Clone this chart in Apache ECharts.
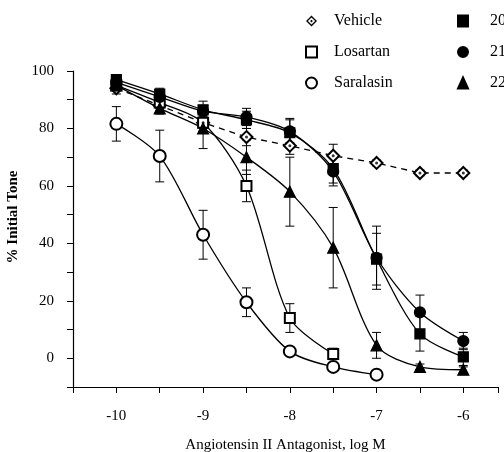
<!DOCTYPE html>
<html>
<head>
<meta charset="utf-8" />
<title>Angiotensin II Antagonist</title>
<script src="https://cdn.jsdelivr.net/npm/echarts@6/dist/echarts.min.js"></script>
<style>
  body { margin: 0; background: #fff; }
  #chart { width: 504px; height: 452px; }
</style>
</head>
<body>
<div id="chart"></div>
<script type="text/javascript">
// log M doses
var doses = [-10, -9.5, -9, -8.5, -8, -7.5, -7, -6.5, -6];

// % initial tone
var vehicle = [94, 88, 82, 77, 74, 70.5, 68, 64.5, 64.5];
var vehicleErr = [2, 2, 3, 3, 3, 4, 1, 1, 1];
var losartan = [95, 89, 82, 60, 14, 1.5];
var losartanErr = [1, 2, 2, 5.5, 5, 2];
var saralasin = [81.6, 70.4, 43, 19.5, 2.4, -3, -5.7];
var saralasinErr = [6, 9, 8.5, 5, 1, 1, 1];
var c20 = [97, 92, 86.5, 83, 78.5, 66, 34.5, 8.5, 0.5];
var c20Err = [1, 2, 3, 3, 5, 5, 9, 6, 3];
var c21 = [96, 91, 86, 84, 79, 65, 35, 16, 6];
var c21Err = [1, 2, 2, 3, 4, 5, 11, 6, 3];
var c22 = [95, 87, 80, 70, 58, 38.5, 4.5, -3, -4];
var c22Err = [1, 2, 7, 6, 12, 14, 4.5, 1, 1];

var xTickLabels = ['-10', '-9', '-8', '-7', '-6'];
var yTickLabels = ['0', '20', '40', '60', '80', '100'];

var font = 'Liberation Serif';
// diamond ring with a centre dot, for the Vehicle legend key
var dotDiamond = 'path://M0,-10L10,0L0,10L-10,0ZM0,-6.5L-6.5,0L0,6.5L6.5,0ZM0,-2.5L2.5,0L0,2.5L-2.5,0Z';

function pairs(ys) {
  return ys.map(function (y, i) { return [doses[i], y]; });
}
function errData(ys, errs) {
  return ys.map(function (y, i) { return [doses[i], y, errs[i]]; });
}

function errorBars(name, ys, errs) {
  return {
    name: name + ' err',
    type: 'custom',
    z: 1,
    silent: true,
    data: errData(ys, errs),
    renderItem: function (params, api) {
      var x = api.value(0), y = api.value(1), e = api.value(2);
      var top = api.coord([x, y + e]);
      var bot = api.coord([x, y - e]);
      var w = 4.5;
      var st = { stroke: '#000', lineWidth: 1 };
      return {
        type: 'group',
        children: [
          { type: 'line', shape: { x1: top[0], y1: top[1], x2: bot[0], y2: bot[1] }, style: st },
          { type: 'line', shape: { x1: top[0] - w, y1: top[1], x2: top[0] + w, y2: top[1] }, style: st },
          { type: 'line', shape: { x1: bot[0] - w, y1: bot[1], x2: bot[0] + w, y2: bot[1] }, style: st }
        ]
      };
    }
  };
}

function curve(name, ys, symbol, size, dashed) {
  return {
    name: name,
    type: 'line',
    z: 3,
    data: pairs(ys),
    symbol: symbol,
    symbolSize: size,
    showAllSymbol: true,
    smooth: dashed ? false : 0.3,
    lineStyle: { color: '#000', width: 1.3, type: dashed ? [6, 5] : 'solid' },
    itemStyle: { color: '#000', borderColor: '#000', borderWidth: 1.2 },
    emphasis: { disabled: true }
  };
}

var chart = echarts.init(document.getElementById('chart'));

var option = {
  animation: false,
  backgroundColor: '#fff',
  color: ['#000'],
  textStyle: { fontFamily: font, color: '#000' },
  grid: { left: 73, right: 6, top: 71, bottom: 65, outerBoundsMode: 'none', containLabel: false },
  legend: [
    {
      left: 300, top: 8, orient: 'vertical', itemGap: 15,
      itemWidth: 11, itemHeight: 11,
      data: [
        { name: 'Vehicle', icon: dotDiamond, itemStyle: { color: '#000', borderWidth: 0 } },
        { name: 'Losartan', icon: 'emptyRect' },
        { name: 'Saralasin', icon: 'emptyCircle' }
      ],
      textStyle: { fontFamily: font, fontSize: 16, color: '#000', padding: [0, 0, 0, 12] }
    },
    {
      left: 452, top: 8, orient: 'vertical', itemGap: 15,
      itemWidth: 10, itemHeight: 11,
      data: [
        { name: '20', icon: 'rect' },
        { name: '21', icon: 'circle' },
        { name: '22', icon: 'triangle' }
      ],
      textStyle: { fontFamily: font, fontSize: 16, color: '#000', padding: [0, 0, 0, 17] }
    }
  ],
  xAxis: {
    type: 'value',
    min: -10.5, max: -5.6, interval: 0.5,
    name: 'Angiotensin II Antagonist, log M',
    nameLocation: 'middle', nameGap: 51,
    nameTextStyle: { fontFamily: font, fontSize: 15, color: '#000' },
    axisLine: { onZero: false, lineStyle: { color: '#000', width: 1.2 } },
    axisTick: { length: 6, lineStyle: { color: '#000' } },
    axisLabel: {
      margin: 22, fontFamily: font, fontSize: 15, color: '#000',
      formatter: function (v) {
        var s = String(v);
        return xTickLabels.indexOf(s) >= 0 ? s : '';
      }
    },
    splitLine: { show: false }
  },
  yAxis: {
    type: 'value',
    min: -10, max: 100, interval: 10,
    name: '% Initial Tone',
    nameLocation: 'middle', nameGap: 45,
    nameTextStyle: { fontFamily: font, fontSize: 15, fontWeight: 'bold', color: '#000', padding: [0, 0, 0, 24] },
    axisLine: { show: true, onZero: false, lineStyle: { color: '#000', width: 1.2 } },
    axisTick: { length: 6, lineStyle: { color: '#000' } },
    axisLabel: {
      margin: 19, fontFamily: font, fontSize: 15, color: '#000',
      formatter: function (v) {
        var s = String(v);
        return yTickLabels.indexOf(s) >= 0 ? s : '';
      }
    },
    splitLine: { show: false }
  },
  series: [
    errorBars('Vehicle', vehicle, vehicleErr),
    errorBars('Losartan', losartan, losartanErr),
    errorBars('Saralasin', saralasin, saralasinErr),
    errorBars('20', c20, c20Err),
    errorBars('21', c21, c21Err),
    errorBars('22', c22, c22Err),
    curve('Vehicle', vehicle, 'emptyDiamond', 12, true),
    curve('Losartan', losartan, 'emptyRect', 10, false),
    curve('Saralasin', saralasin, 'emptyCircle', 12, false),
    curve('20', c20, 'rect', 10, false),
    curve('21', c21, 'circle', 11, false),
    curve('22', c22, 'triangle', 11, false),
    {
      name: 'Vehicle dot',
      type: 'scatter',
      z: 4,
      silent: true,
      data: pairs(vehicle),
      symbol: 'circle',
      symbolSize: 3,
      itemStyle: { color: '#000' }
    }
  ]
};

chart.setOption(option);
</script>
</body>
</html>
